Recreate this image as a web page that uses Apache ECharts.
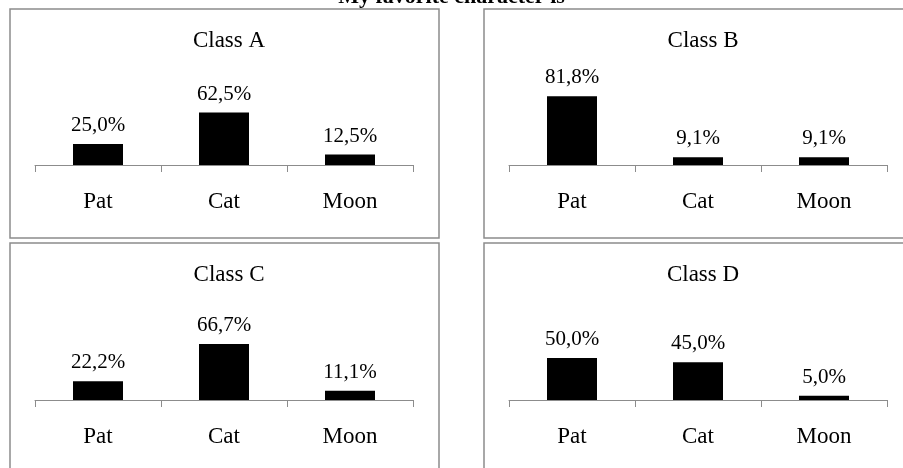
<!DOCTYPE html>
<html><head><meta charset="utf-8">
<script src="https://cdn.jsdelivr.net/npm/echarts@6/dist/echarts.min.js"></script>
<style>html,body{margin:0;padding:0;background:#fff}#c{width:903px;height:468px}</style>
</head><body><div id="c"></div>
<script>
const mainTitle = 'My favorite character is';
const categories = ['Pat', 'Cat', 'Moon'];
const panelTitles = ['Class A', 'Class B', 'Class C', 'Class D'];
const classA = [25.0, 62.5, 12.5];
const classB = [81.8, 9.1, 9.1];
const classC = [22.2, 66.7, 11.1];
const classD = [50.0, 45.0, 5.0];
const seriesData = [classA, classB, classC, classD];

const FONT = '"Liberation Serif", "Times New Roman", serif';
const chart = echarts.init(document.getElementById('c'), null, {renderer: 'canvas'});

const panels = [
  {boxX: 10, boxY: 9, axisL: 35, axisY: 165},
  {boxX: 484, boxY: 9, axisL: 509, axisY: 165},
  {boxX: 10, boxY: 243, axisL: 35, axisY: 400},
  {boxX: 484, boxY: 243, axisL: 509, axisY: 400}
];
const BOX_W = 429, BOX_H = 229, AXIS_W = 378, PLOT_H = 84;

const grids = [], xAxes = [], yAxes = [], series = [], titles = [], graphics = [];
titles.push({text: mainTitle, left: 'center', top: -19,
  textStyle: {fontFamily: FONT, fontSize: 22, fontWeight: 'bold', color: '#000'}});
panels.forEach((p, i) => {
  graphics.push({type: 'rect', shape: {x: p.boxX, y: p.boxY, width: BOX_W, height: BOX_H},
    style: {fill: 'none', stroke: '#8c8c8c', lineWidth: 1.5}, z: 0});
  titles.push({text: panelTitles[i], left: p.axisL + AXIS_W / 2, top: p.boxY + 15, textAlign: 'center',
    textStyle: {fontFamily: FONT, fontSize: 23, fontWeight: 'normal', color: '#000'}});
  grids.push({left: p.axisL, top: p.axisY - PLOT_H, width: AXIS_W, height: PLOT_H});
  xAxes.push({type: 'category', gridIndex: i, data: categories,
    axisLine: {show: true, lineStyle: {color: '#8c8c8c', width: 1}},
    axisTick: {show: true, alignWithLabel: false, length: 7, lineStyle: {color: '#8c8c8c', width: 1}},
    axisLabel: {fontFamily: FONT, fontSize: 23, color: '#000', margin: 25}});
  yAxes.push({type: 'value', gridIndex: i, min: 0, max: 100, show: false, splitLine: {show: false}});
  series.push({type: 'bar', xAxisIndex: i, yAxisIndex: i, data: seriesData[i], barWidth: 50,
    itemStyle: {color: '#000'},
    label: {show: true, position: 'top', distance: 8, fontFamily: FONT, fontSize: 21, color: '#000',
      formatter: (d) => d.value.toFixed(1).replace('.', ',') + '%'}});
});

chart.setOption({
  animation: false,
  backgroundColor: '#fff',
  title: titles,
  grid: grids,
  xAxis: xAxes,
  yAxis: yAxes,
  series: series,
  graphic: graphics
});
</script></body></html>
